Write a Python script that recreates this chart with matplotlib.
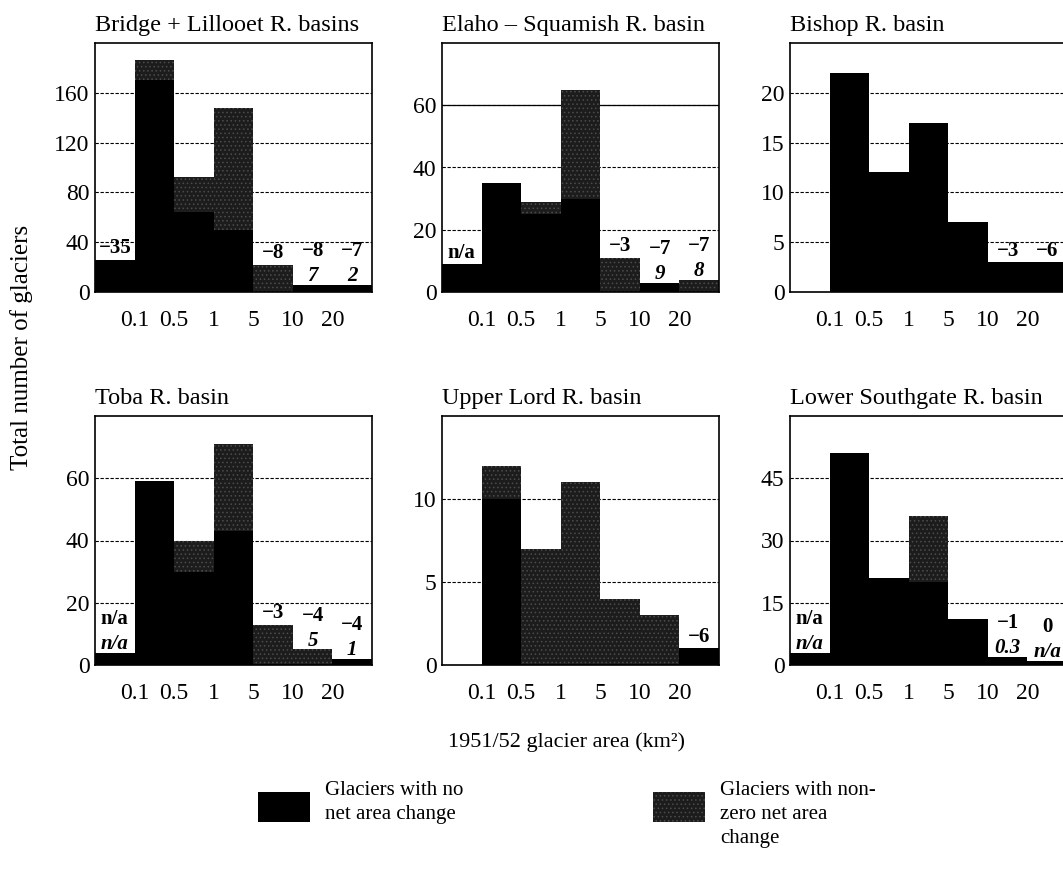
import numpy as np
import matplotlib
matplotlib.use("Agg")
import matplotlib.pyplot as plt
from matplotlib.patches import Rectangle

plt.rcParams['font.family'] = ['Liberation Serif', 'DejaVu Serif']
plt.rcParams['hatch.linewidth'] = 0.6

bin_edges = ['0.1', '0.5', '1', '5', '10', '20']

titles = ['Bridge + Lillooet R. basins', 'Elaho \u2013 Squamish R. basin', 'Bishop R. basin',
          'Toba R. basin', 'Upper Lord R. basin', 'Lower Southgate R. basin']

# glaciers with no net area change (black) per size class
no_change = [
    [26, 170, 64, 50, 0, 6, 6],
    [9, 35, 25, 30, 0, 3, 0],
    [0, 22, 12, 17, 7, 3, 3],
    [4, 59, 30, 43, 0, 0, 2],
    [0, 10, 0, 0, 0, 0, 1],
    [3, 51, 21, 20, 11, 2, 1],
]
# glaciers with non-zero net area change (grey) per size class
changed = [
    [0, 16, 28, 98, 22, 0, 0],
    [0, 0, 4, 35, 11, 0, 4],
    [0, 0, 0, 0, 0, 0, 0],
    [0, 0, 10, 28, 13, 5, 0],
    [0, 2, 7, 11, 4, 3, 0],
    [0, 0, 0, 16, 0, 0, 0],
]
# bold (upper) and italic (lower) labels above the bars
bold_labels = [
    ['\u221235', '', '', '', '\u22128', '\u22128', '\u22127'],
    ['n/a', '', '', '', '\u22123', '\u22127', '\u22127'],
    ['', '', '', '', '', '\u22123', '\u22126'],
    ['n/a', '', '', '', '\u22123', '\u22124', '\u22124'],
    ['', '', '', '', '', '', '\u22126'],
    ['n/a', '', '', '', '', '\u22121', '0'],
]
italic_labels = [
    ['', '', '', '', '', '7', '2'],
    ['', '', '', '', '', '9', '8'],
    ['', '', '', '', '', '', ''],
    ['n/a', '', '', '', '', '5', '1'],
    ['', '', '', '', '', '', ''],
    ['n/a', '', '', '', '', '0.3', 'n/a'],
]
ymax = [200, 80, 25, 80, 15, 60]
ystep = [40, 20, 5, 20, 5, 15]

W, H = 1063, 872
fig = plt.figure(figsize=(W / 100, H / 100), dpi=100)

col_left = [95, 442, 790]
row_top = [43, 416]
ax_w, ax_h = 277, 249

for i in range(6):
    r, c = divmod(i, 3)
    ax = fig.add_axes([col_left[c] / W, 1 - (row_top[r] + ax_h) / H, ax_w / W, ax_h / H])
    x = np.arange(7)
    ax.bar(x, no_change[i], width=1, align='edge', color='black', linewidth=0, zorder=2)
    ax.bar(x, changed[i], bottom=no_change[i], width=1, align='edge', color='#1c1c1c',
           edgecolor='#4c4c4c', hatch='....', linewidth=0, zorder=2)
    ax.set_xlim(0, 7)
    ax.set_ylim(0, ymax[i])
    ax.set_yticks(np.arange(0, ymax[i], ystep[i]))
    ax.set_xticks(np.arange(1, 7))
    ax.set_xticklabels(bin_edges)
    ax.tick_params(length=0, labelsize=17)
    ax.tick_params(axis='x', pad=13)
    ax.tick_params(axis='y', pad=4)
    ax.yaxis.grid(True, color='black', linestyle=(0, (3, 1.5)), linewidth=0.8, zorder=0)
    if i == 1:
        ax.axhline(60, color='black', linewidth=0.9, zorder=1)
    ax.set_axisbelow(True)
    for s in ax.spines.values():
        s.set_linewidth(1.2)
    ax.set_title(titles[i], loc='left', fontsize=17.5, pad=9)

    totals = np.array(no_change[i]) + np.array(changed[i])
    for k in range(7):
        it = italic_labels[i][k]
        bd = bold_labels[i][k]
        off = 0
        if it:
            ax.annotate(it, (k + 0.5, totals[k]), xytext=(0, -1), textcoords='offset points',
                        ha='center', va='bottom', fontsize=15, fontweight='bold',
                        style='italic', zorder=3)
            off = 16
        if bd:
            ax.annotate(bd, (k + 0.5, totals[k]), xytext=(0, off + 1), textcoords='offset points',
                        ha='center', va='bottom', fontsize=15, fontweight='bold', zorder=3)

fig.text(22 / W, 1 - 347 / H, 'Total number of glaciers', rotation=90,
         ha='center', va='center', fontsize=18)
fig.text(567 / W, 1 - 742 / H, '1951/52 glacier area (km\u00b2)', ha='center', va='center',
         fontsize=16)

legend_items = [
    ('Glaciers with no\nnet area change', dict(color='black', linewidth=0), 258),
    ('Glaciers with non-\nzero net area\nchange',
     dict(facecolor='#1c1c1c', edgecolor='#4c4c4c', hatch='....', linewidth=0), 653),
]
for text, style, px in legend_items:
    fig.add_artist(Rectangle((px / W, 1 - 822 / H), 52 / W, 30 / H,
                             transform=fig.transFigure, **style))
    fig.text((px + 67) / W, 1 - 781 / H, text, ha='left', va='top', fontsize=15,
             linespacing=1.35)

fig.savefig('out.png', dpi=100)
